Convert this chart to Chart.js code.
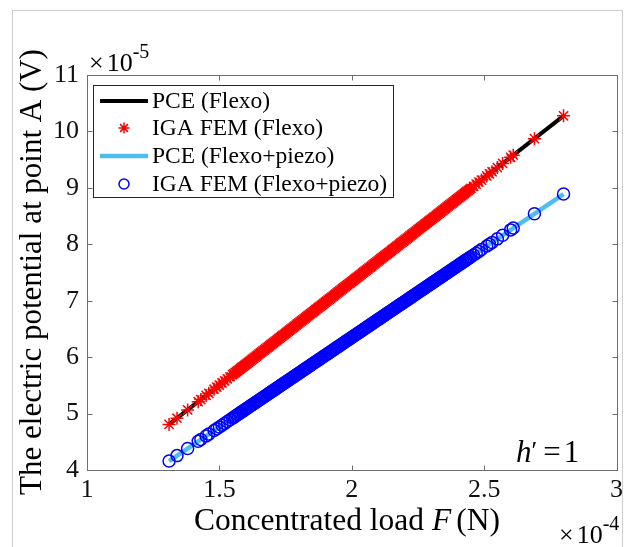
<!DOCTYPE html>
<html>
<head>
<meta charset="utf-8">
<script src="https://cdn.jsdelivr.net/npm/chart.js@4.4.0/dist/chart.umd.min.js"></script>
<style>
  body { margin: 0; background: #fff; }
  canvas { display: block; }
</style>
</head>
<body>
<canvas id="myChart" width="628" height="547"></canvas>
<script>
// concentrated load samples (x 1e-4 N); last block is the dense core of the sample set
var loadF = [
  1.31, 1.34, 1.38, 1.42, 1.43, 1.45, 1.46, 1.48, 1.49,
  1.50, 1.51, 1.52, 1.53, 1.54, 1.55, 1.56, 1.57, 1.58, 1.59,
  1.60, 1.61, 1.62, 1.63, 1.64, 1.65, 1.66, 1.67, 1.68, 1.69,
  1.70, 1.71, 1.72, 1.73, 1.74, 1.75, 1.76, 1.77, 1.78, 1.79,
  1.80, 1.81, 1.82, 1.83, 1.84, 1.85, 1.86, 1.87, 1.88, 1.89,
  1.90, 1.91, 1.92, 1.93, 1.94, 1.95, 1.96, 1.97, 1.98, 1.99,
  2.00, 2.01, 2.02, 2.03, 2.04, 2.05, 2.06, 2.07, 2.08, 2.09,
  2.10, 2.11, 2.12, 2.13, 2.14, 2.15, 2.16, 2.17, 2.18, 2.19,
  2.20, 2.21, 2.22, 2.23, 2.24, 2.25, 2.26, 2.27, 2.28, 2.29,
  2.30, 2.31, 2.32, 2.33, 2.34, 2.35, 2.36, 2.37, 2.38, 2.39,
  2.40, 2.41, 2.42, 2.43, 2.44, 2.45, 2.46, 2.47, 2.48,
  2.49, 2.51, 2.52, 2.53, 2.55, 2.57, 2.60, 2.61, 2.69, 2.80,
  1.555, 1.565, 1.575, 1.585, 1.595, 1.605, 1.615, 1.625, 1.635, 1.645,
  1.655, 1.665, 1.675, 1.685, 1.695, 1.705, 1.715, 1.725, 1.735, 1.745,
  1.755, 1.765, 1.775, 1.785, 1.795, 1.805, 1.815, 1.825, 1.835, 1.845,
  1.855, 1.865, 1.875, 1.885, 1.895, 1.905, 1.915, 1.925, 1.935, 1.945,
  1.955, 1.965, 1.975, 1.985, 1.995, 2.005, 2.015, 2.025, 2.035, 2.045,
  2.055, 2.065, 2.075, 2.085, 2.095, 2.105, 2.115, 2.125, 2.135, 2.145,
  2.155, 2.165, 2.175, 2.185, 2.195, 2.205, 2.215, 2.225, 2.235, 2.245,
  2.255, 2.265, 2.275, 2.285, 2.295, 2.305, 2.315, 2.325, 2.335, 2.345,
  2.355, 2.365, 2.375, 2.385, 2.395, 2.405, 2.415, 2.425, 2.435, 2.445
];

// IGA FEM potential at point A (x 1e-5 V), flexoelectric only
var igaFlexo = [
  4.808, 4.918, 5.065, 5.211, 5.248, 5.322, 5.358, 5.432, 5.468,
  5.505, 5.542, 5.578, 5.615, 5.652, 5.689, 5.725, 5.762, 5.799, 5.835,
  5.872, 5.909, 5.945, 5.982, 6.019, 6.056, 6.092, 6.129, 6.166, 6.202,
  6.239, 6.276, 6.312, 6.349, 6.386, 6.423, 6.459, 6.496, 6.533, 6.569,
  6.606, 6.643, 6.679, 6.716, 6.753, 6.790, 6.826, 6.863, 6.900, 6.936,
  6.973, 7.010, 7.046, 7.083, 7.120, 7.157, 7.193, 7.230, 7.267, 7.303,
  7.340, 7.377, 7.413, 7.450, 7.487, 7.524, 7.560, 7.597, 7.634, 7.670,
  7.707, 7.744, 7.780, 7.817, 7.854, 7.891, 7.927, 7.964, 8.001, 8.037,
  8.074, 8.111, 8.147, 8.184, 8.221, 8.258, 8.294, 8.331, 8.368, 8.404,
  8.441, 8.478, 8.514, 8.551, 8.588, 8.625, 8.661, 8.698, 8.735, 8.771,
  8.808, 8.845, 8.881, 8.918, 8.955, 8.992, 9.028, 9.065, 9.102,
  9.138, 9.212, 9.248, 9.285, 9.359, 9.432, 9.542, 9.579, 9.872, 10.276,
  5.707, 5.744, 5.780, 5.817, 5.854, 5.890, 5.927, 5.964, 6.000, 6.037,
  6.074, 6.111, 6.147, 6.184, 6.221, 6.257, 6.294, 6.331, 6.367, 6.404,
  6.441, 6.478, 6.514, 6.551, 6.588, 6.624, 6.661, 6.698, 6.734, 6.771,
  6.808, 6.845, 6.881, 6.918, 6.955, 6.991, 7.028, 7.065, 7.101, 7.138,
  7.175, 7.212, 7.248, 7.285, 7.322, 7.358, 7.395, 7.432, 7.468, 7.505,
  7.542, 7.579, 7.615, 7.652, 7.689, 7.725, 7.762, 7.799, 7.835, 7.872,
  7.909, 7.946, 7.982, 8.019, 8.056, 8.092, 8.129, 8.166, 8.202, 8.239,
  8.276, 8.313, 8.349, 8.386, 8.423, 8.459, 8.496, 8.533, 8.569, 8.606,
  8.643, 8.680, 8.716, 8.753, 8.790, 8.826, 8.863, 8.900, 8.936, 8.973
];

// IGA FEM potential at point A (x 1e-5 V), flexo + piezo
var igaPiezo = [
  4.159, 4.255, 4.382, 4.509, 4.540, 4.604, 4.636, 4.699, 4.731,
  4.763, 4.794, 4.826, 4.858, 4.890, 4.921, 4.953, 4.985, 5.017, 5.048,
  5.080, 5.112, 5.144, 5.175, 5.207, 5.239, 5.271, 5.302, 5.334, 5.366,
  5.398, 5.429, 5.461, 5.493, 5.525, 5.556, 5.588, 5.620, 5.652, 5.683,
  5.715, 5.747, 5.779, 5.810, 5.842, 5.874, 5.906, 5.937, 5.969, 6.001,
  6.033, 6.064, 6.096, 6.128, 6.160, 6.191, 6.223, 6.255, 6.287, 6.318,
  6.350, 6.382, 6.414, 6.445, 6.477, 6.509, 6.541, 6.572, 6.604, 6.636,
  6.668, 6.699, 6.731, 6.763, 6.795, 6.826, 6.858, 6.890, 6.922, 6.953,
  6.985, 7.017, 7.049, 7.080, 7.112, 7.144, 7.176, 7.207, 7.239, 7.271,
  7.303, 7.334, 7.366, 7.398, 7.430, 7.461, 7.493, 7.525, 7.557, 7.588,
  7.620, 7.652, 7.684, 7.715, 7.747, 7.779, 7.811, 7.842, 7.874,
  7.906, 7.969, 8.001, 8.033, 8.096, 8.160, 8.255, 8.287, 8.541, 8.890,
  4.937, 4.969, 5.001, 5.032, 5.064, 5.096, 5.128, 5.159, 5.191, 5.223,
  5.255, 5.286, 5.318, 5.350, 5.382, 5.413, 5.445, 5.477, 5.509, 5.540,
  5.572, 5.604, 5.636, 5.667, 5.699, 5.731, 5.763, 5.794, 5.826, 5.858,
  5.890, 5.921, 5.953, 5.985, 6.017, 6.048, 6.080, 6.112, 6.144, 6.175,
  6.207, 6.239, 6.271, 6.302, 6.334, 6.366, 6.398, 6.429, 6.461, 6.493,
  6.525, 6.556, 6.588, 6.620, 6.652, 6.683, 6.715, 6.747, 6.779, 6.810,
  6.842, 6.874, 6.906, 6.937, 6.969, 7.001, 7.033, 7.064, 7.096, 7.128,
  7.160, 7.191, 7.223, 7.255, 7.287, 7.318, 7.350, 7.382, 7.414, 7.445,
  7.477, 7.509, 7.541, 7.572, 7.604, 7.636, 7.668, 7.699, 7.731, 7.763
];

// PCE surrogate lines, end points only
var pceLoad = [1.31, 2.80];
var pceFlexo = [4.808, 10.276];
var pcePiezo = [4.159, 8.890];

var xTicks = [1, 1.5, 2, 2.5, 3];
var yTicks = [4, 5, 6, 7, 8, 9, 10, 11];

var serif = '"Liberation Serif", "Times New Roman", serif';

function pts(xs, ys) {
  return xs.map(function (x, i) { return { x: x, y: ys[i] }; });
}

// draw a row of text pieces with different fonts one after another
function textRun(ctx, parts, x, y, align) {
  var total = 0;
  parts.forEach(function (p) {
    ctx.font = p.font;
    p.w = ctx.measureText(p.text).width + (p.gap || 0);
    total += p.w;
  });
  var cx = align === 'center' ? x - total / 2 : x;
  ctx.textAlign = 'left';
  parts.forEach(function (p) {
    ctx.font = p.font;
    ctx.fillText(p.text, cx, y + (p.dy || 0));
    cx += p.w;
  });
}

var decorations = {
  id: 'decorations',
  afterDraw: function (chart) {
    var ctx = chart.ctx;
    var a = chart.chartArea;
    var xs = chart.scales.x;
    var ys = chart.scales.y;
    var L = Math.round(a.left) + 0.5, R = Math.round(a.right) + 0.5;
    var T = Math.round(a.top) + 0.5, B = Math.round(a.bottom) + 0.5;

    ctx.save();
    // figure frame
    ctx.strokeStyle = '#cfcfcf';
    ctx.lineWidth = 1;
    ctx.strokeRect(12.5, 10.5, 610, 600);

    // axes box with inward ticks on all sides
    ctx.strokeStyle = '#6e6e6e';
    ctx.strokeRect(L, T, R - L, B - T);
    ctx.beginPath();
    xTicks.forEach(function (v) {
      var px = Math.round(xs.getPixelForValue(v)) + 0.5;
      ctx.moveTo(px, B); ctx.lineTo(px, B - 5);
      ctx.moveTo(px, T); ctx.lineTo(px, T + 5);
    });
    yTicks.forEach(function (v) {
      var py = Math.round(ys.getPixelForValue(v)) + 0.5;
      ctx.moveTo(L, py); ctx.lineTo(L + 5, py);
      ctx.moveTo(R, py); ctx.lineTo(R - 5, py);
    });
    ctx.stroke();

    // legend
    var lx = 93.5, ly = 85.5, lw = 300, lh = 112;
    ctx.fillStyle = '#fff';
    ctx.fillRect(lx, ly, lw, lh);
    ctx.strokeStyle = '#262626';
    ctx.strokeRect(lx, ly, lw, lh);
    var rows = [101, 128, 156, 184];
    chart.data.datasets.forEach(function (ds, i) {
      var y = rows[i];
      if (ds.showLine) {
        ctx.strokeStyle = ds.borderColor;
        ctx.lineWidth = ds.borderWidth;
        ctx.beginPath();
        ctx.moveTo(100, y);
        ctx.lineTo(148, y);
        ctx.stroke();
      } else {
        ctx.strokeStyle = ds.borderColor;
        ctx.fillStyle = ds.backgroundColor;
        ctx.lineWidth = ds.borderWidth;
        Chart.helpers.drawPoint(ctx, {
          pointStyle: ds.pointStyle, radius: ds.pointRadius - 1,
          borderWidth: ds.borderWidth, rotation: 0
        }, 124, y);
      }
      ctx.fillStyle = '#000';
      ctx.font = '23.5px ' + serif;
      ctx.textAlign = 'left';
      ctx.textBaseline = 'middle';
      ctx.fillText(ds.label, 152, y + 1);
    });

    ctx.fillStyle = '#000';
    ctx.textBaseline = 'alphabetic';

    // exponent of the y axis
    textRun(ctx, [
      { text: '\u00d7', font: '26px ' + serif, gap: 3 },
      { text: '10', font: '26px ' + serif },
      { text: '-5', font: '20px ' + serif, dy: -13 }
    ], 89, 71, 'left');

    // exponent of the x axis
    textRun(ctx, [
      { text: '\u00d7', font: '26px ' + serif, gap: 3 },
      { text: '10', font: '26px ' + serif },
      { text: '-4', font: '20px ' + serif, dy: -13 }
    ], 559, 543, 'left');

    // x axis title
    textRun(ctx, [
      { text: 'Concentrated load ', font: '31.5px ' + serif },
      { text: 'F', font: 'italic 31.5px ' + serif, gap: 5 },
      { text: '(N)', font: '31.5px ' + serif }
    ], 347, 530, 'center');

    // y axis title
    ctx.save();
    ctx.translate(41, 272);
    ctx.rotate(-Math.PI / 2);
    ctx.font = '31px ' + serif;
    ctx.textAlign = 'center';
    ctx.fillText('The electric potential at point A (V)', 0, 0);
    ctx.restore();

    // case annotation
    textRun(ctx, [
      { text: 'h', font: 'italic 31px ' + serif },
      { text: '\u2032', font: '26px ' + serif, dy: -3, gap: 6 },
      { text: '=', font: '31px ' + serif, gap: 3 },
      { text: '1', font: '31px ' + serif }
    ], 516, 462, 'left');

    ctx.restore();
  }
};

var tickFont = { family: serif, size: 26 };

new Chart(document.getElementById('myChart'), {
  type: 'scatter',
  data: {
    datasets: [
      {
        label: 'PCE (Flexo)',
        data: pts(pceLoad, pceFlexo),
        showLine: true,
        borderColor: '#000000',
        borderWidth: 4,
        pointRadius: 0,
        order: 4
      },
      {
        label: 'IGA FEM (Flexo)',
        data: pts(loadF, igaFlexo),
        pointStyle: 'star',
        pointRadius: 6.5,
        borderColor: '#ff0000',
        backgroundColor: '#ff0000',
        borderWidth: 1.5,
        order: 3
      },
      {
        label: 'PCE (Flexo+piezo)',
        data: pts(pceLoad, pcePiezo),
        showLine: true,
        borderColor: '#4dbeee',
        borderWidth: 4.5,
        pointRadius: 0,
        order: 2
      },
      {
        label: 'IGA FEM (Flexo+piezo)',
        data: pts(loadF, igaPiezo),
        pointStyle: 'circle',
        pointRadius: 6,
        borderColor: '#0000ff',
        backgroundColor: 'rgba(0,0,0,0)',
        borderWidth: 1.5,
        order: 1
      }
    ]
  },
  options: {
    responsive: false,
    animation: false,
    events: [],
    layout: { padding: { top: 75, right: 11, left: 0, bottom: 0 } },
    plugins: { legend: { display: false }, tooltip: { enabled: false } },
    scales: {
      x: {
        type: 'linear',
        min: 1,
        max: 3,
        afterBuildTicks: function (s) { s.ticks = xTicks.map(function (v) { return { value: v }; }); },
        afterFit: function (s) { s.height = 77; },
        ticks: {
          font: tickFont, color: '#111', padding: 5, autoSkip: false, maxRotation: 0,
          callback: function (v) { return String(v); }
        },
        grid: { display: false, drawTicks: false },
        border: { display: false }
      },
      y: {
        min: 4,
        max: 11,
        afterBuildTicks: function (s) { s.ticks = yTicks.map(function (v) { return { value: v }; }); },
        afterFit: function (s) { s.width = 87; },
        ticks: {
          font: tickFont, color: '#111', padding: 8, autoSkip: false,
          callback: function (v) { return String(v); }
        },
        grid: { display: false, drawTicks: false },
        border: { display: false }
      }
    }
  },
  plugins: [decorations]
});
</script>
</body>
</html>
